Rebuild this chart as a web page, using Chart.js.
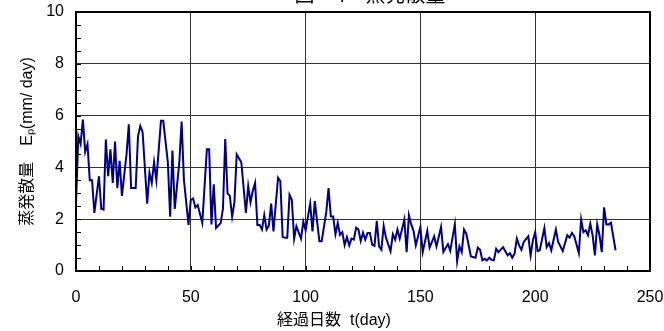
<!DOCTYPE html>
<html>
<head>
<meta charset="utf-8">
<script src="https://cdn.jsdelivr.net/npm/chart.js@4"></script>
<style>
  body { margin: 0; background: #fff; }
</style>
</head>
<body>
<canvas id="chart" width="664" height="331"></canvas>
<script>
// elapsed days and evaporation (mm/day)
const days = [
  0, 1, 2, 3, 4, 5, 6, 7, 8, 10, 11, 12, 13, 14, 15, 16, 17, 18, 19, 20,
  22, 23, 24, 26, 27, 28, 29, 31, 32, 33, 34, 35, 37, 38, 40, 41, 42, 43, 45, 46,
  47, 49, 50, 51, 52, 53, 55, 57, 58, 59, 60, 61, 63, 64, 65, 66, 67, 68, 69, 70,
  72, 74, 75, 76, 77, 78, 79, 80, 81, 82, 83, 84, 85, 86, 88, 89, 90, 91, 92, 93,
  94, 95, 96, 98, 99, 100, 102, 103, 104, 106, 107, 109, 110, 111, 112, 113, 114, 115, 116, 117,
  118, 119, 120, 121, 122, 123, 124, 125, 126, 127, 128, 129, 130, 131, 132, 133, 134, 135, 137, 138,
  139, 140, 141, 143, 144, 145, 146, 147, 148, 150, 151, 153, 154, 156, 157, 159, 160, 162, 163, 165,
  166, 167, 168, 169, 170, 172, 174, 175, 176, 177, 178, 179, 180, 181, 182, 183, 184, 186, 187, 188,
  189, 190, 191, 192, 193, 194, 195, 197, 198, 199, 200, 201, 202, 204, 205, 206, 207, 209, 210, 212,
  213, 214, 215, 216, 217, 219, 220, 221, 222, 223, 224, 225, 226, 227, 228, 229, 230, 231, 232, 233,
  235
];
const evap = [
  2.6, 5.2, 4.9, 5.85, 4.6, 4.9, 3.5, 3.5, 2.24, 3.66, 2.4, 2.37, 5.08, 3.66, 4.7, 3.4, 5.0, 3.2, 4.25, 2.9,
  4.5, 5.66, 3.2, 3.2, 5.2, 5.6, 5.37, 2.6, 3.8, 3.4, 4.2, 3.5, 5.8, 5.8, 4.2, 2.1, 4.65, 2.4, 4.2, 5.77,
  3.53, 1.78, 2.75, 2.8, 2.45, 2.55, 1.86, 4.7, 4.7, 1.8, 3.35, 1.66, 1.85, 2.4, 5.1, 3.0, 2.9, 2.1, 2.65, 4.5,
  4.2, 2.24, 3.28, 2.65, 3.1, 3.4, 1.78, 1.78, 1.6, 2.16, 1.6, 1.76, 2.6, 1.53, 3.6, 3.47, 1.32, 1.28, 1.28, 2.94,
  2.75, 1.25, 1.73, 1.25, 1.9, 1.57, 2.6, 1.53, 2.7, 1.15, 1.15, 2.27, 3.2, 2.1, 2.1, 1.42, 1.85, 1.4, 1.5, 1.0,
  1.31, 0.99, 1.25, 1.21, 1.67, 1.61, 1.16, 1.48, 1.21, 1.47, 1.47, 1.02, 0.97, 1.94, 0.95, 0.82, 1.74, 1.29, 0.76, 1.42,
  1.21, 1.6, 1.25, 1.99, 0.73, 2.15, 1.8, 1.55, 0.99, 1.7, 0.73, 1.55, 0.9, 1.34, 0.95, 1.7, 0.73, 1.04, 0.78, 1.8,
  0.38, 0.95, 0.73, 1.6, 1.44, 0.56, 0.51, 0.9, 0.82, 0.41, 0.47, 0.41, 0.51, 0.43, 0.41, 0.86, 0.73, 0.92, 0.76, 0.6,
  0.69, 0.51, 0.67, 1.25, 0.99, 0.82, 1.12, 1.34, 0.6, 1.18, 1.5, 0.77, 0.8, 1.66, 0.92, 1.08, 0.8, 1.6, 1.12, 0.77,
  1.08, 1.38, 1.29, 1.47, 1.34, 0.69, 1.99, 1.5, 1.57, 1.38, 1.83, 1.38, 0.6, 1.8, 1.38, 0.73, 2.46, 1.8, 1.8, 1.86,
  0.8
];

const xTitle = "経過日数  t(day)";
const yTitle = "蒸発散量　Eₚ(mm/ day)";
const figTitle = "図－4　蒸発散量";

const fontFamily = "'Liberation Sans', 'Noto Sans CJK JP', sans-serif";

// inner minor ticks, plot frame, x title and the clipped caption on top
const framePlugin = {
  id: "frame",
  afterDatasetsDraw(chart) {
    const { ctx, chartArea: a, scales } = chart;
    ctx.save();
    ctx.strokeStyle = "#000";
    ctx.lineWidth = 1;
    ctx.beginPath();
    for (let d = 0; d <= 250; d += 10) {
      const x = Math.round(scales.x.getPixelForValue(d)) + 0.5;
      ctx.moveTo(x, a.bottom);
      ctx.lineTo(x, a.bottom - 5);
    }
    for (let v = 0; v <= 10; v += 0.5) {
      const y = Math.round(scales.y.getPixelForValue(v)) + 0.5;
      ctx.moveTo(a.left, y);
      ctx.lineTo(a.left + 5, y);
    }
    ctx.stroke();
    ctx.lineWidth = 2;
    ctx.strokeRect(a.left, a.top, a.right - a.left, a.bottom - a.top);

    ctx.fillStyle = "#000";
    ctx.textAlign = "center";
    ctx.textBaseline = "middle";
    ctx.font = "16px " + fontFamily;
    ctx.fillText(xTitle, 334, 321);

    ctx.textBaseline = "alphabetic";
    ctx.font = "20px 'Noto Sans CJK JP', sans-serif";
    ctx.fillText(figTitle, 370, 2);
    ctx.restore();
  }
};

new Chart(document.getElementById("chart"), {
  type: "line",
  data: {
    datasets: [{
      data: days.map((d, i) => ({ x: d, y: evap[i] })),
      borderColor: "#000080",
      borderWidth: 2,
      pointRadius: 0,
      tension: 0,
      fill: false
    }]
  },
  options: {
    responsive: false,
    animation: false,
    layout: { padding: { top: 12, right: 14, left: 0, bottom: 0 } },
    plugins: {
      legend: { display: false },
      tooltip: { enabled: false }
    },
    scales: {
      x: {
        type: "linear",
        min: 0,
        max: 250,
        afterFit: (s) => { s.height = 60; s.paddingLeft = 0; s.paddingRight = 0; },
        border: { display: false },
        grid: { color: "#333", lineWidth: 1, drawTicks: false },
        ticks: { stepSize: 50, padding: 17, color: "#000", font: { family: fontFamily, size: 16 } }
      },
      y: {
        min: 0,
        max: 10,
        afterFit: (s) => { s.width = 76; s.paddingTop = 0; s.paddingBottom = 0; },
        border: { display: false },
        grid: { color: "#333", lineWidth: 1, drawTicks: false },
        ticks: { stepSize: 2, padding: 12, color: "#000", font: { family: fontFamily, size: 16 } },
        title: {
          display: true,
          text: yTitle,
          color: "#000",
          padding: { top: 18, bottom: 0 },
          font: { family: fontFamily, size: 16 }
        }
      }
    }
  },
  plugins: [framePlugin]
});
</script>
</body>
</html>
